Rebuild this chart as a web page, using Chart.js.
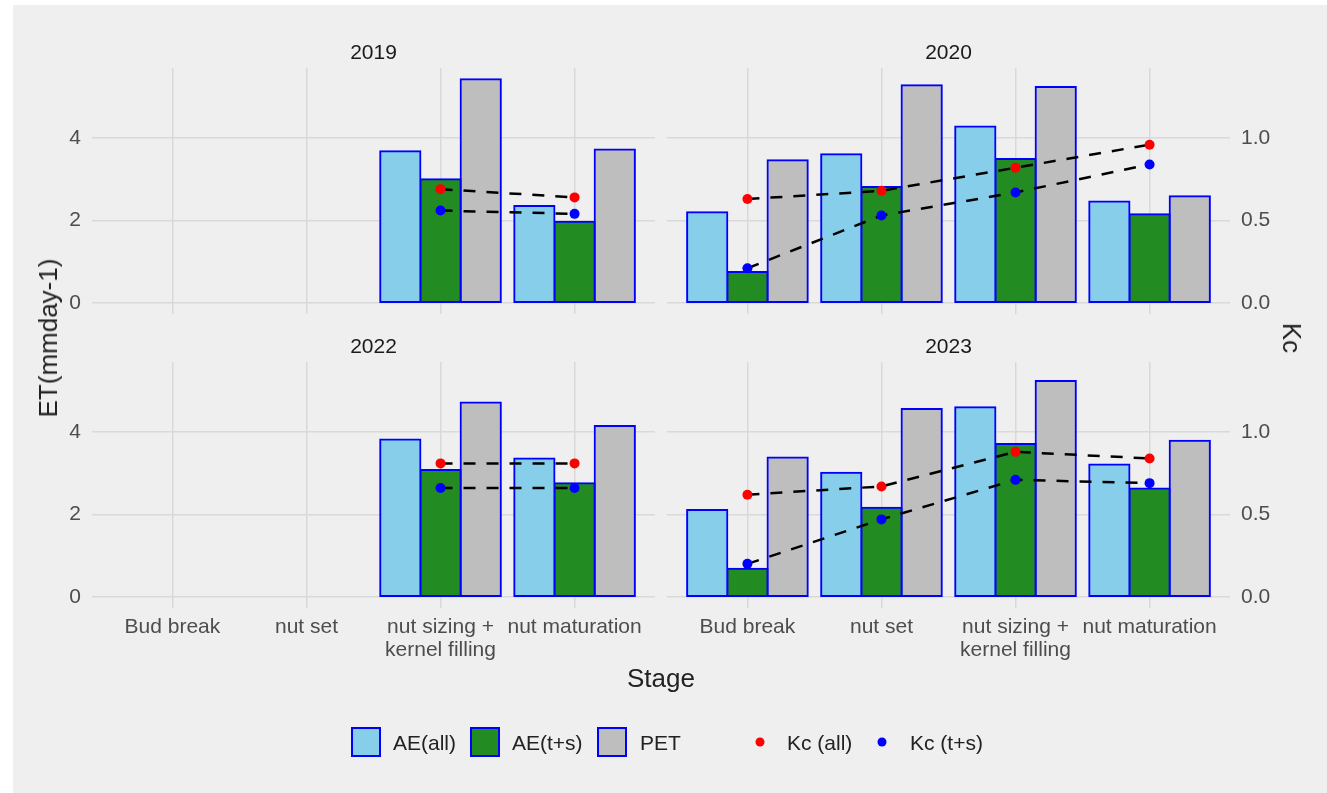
<!DOCTYPE html>
<html>
<head>
<meta charset="utf-8">
<title>ET and Kc by stage</title>
<script src="https://cdn.jsdelivr.net/npm/chart.js@4.4.1/dist/chart.umd.min.js"></script>
<style>
  html, body { margin: 0; padding: 0; background: #ffffff; }
  #fig { position: relative; width: 1327px; height: 793px; overflow: hidden;
         font-family: "Liberation Sans", Arial, sans-serif; }
  #bg { position: absolute; left: 13px; top: 5px; right: 0; bottom: 0; background: #EFEFEF; }
  #fig canvas { position: absolute; left: 0; top: 0; }
  .t { position: absolute; white-space: nowrap; line-height: 1; transform: translate(-50%, -50%); }
  .strip { font-size: 21px; color: #1A1A1A; }
  .title { font-size: 26px; color: #222222; }
  .leg { position: absolute; white-space: nowrap; line-height: 1; font-size: 21px; color: #222222;
         transform: translateY(-50%); }
  .key { position: absolute; width: 30px; height: 30px; box-sizing: border-box;
         border: 2px solid #0000FF; transform: translateY(-50%); }
  .dot { position: absolute; width: 9px; height: 9px; border-radius: 50%; transform: translate(-50%, -50%); }
</style>
</head>
<body>
<div id="fig"><div id="bg"></div></div>
<script>
// Growth stages along the x axis
const stages = ['Bud break', 'nut set', 'nut sizing +\nkernel filling', 'nut maturation'];
// Facet years (rows of every series array below follow this order)
const years = ['2019', '2020', '2022', '2023'];

// ET values (mm day-1), one row per year, one entry per stage
const aeAll = [
  [null, null, 3.68, 2.35],
  [2.20, 3.61, 4.28, 2.46],
  [null, null, 3.82, 3.36],
  [2.11, 3.01, 4.60, 3.21]
];
const aeTS = [
  [null, null, 3.00, 1.97],
  [0.75, 2.81, 3.49, 2.15],
  [null, null, 3.08, 2.76],
  [0.68, 2.16, 3.71, 2.63]
];
const pet = [
  [null, null, 5.43, 3.72],
  [3.46, 5.28, 5.24, 2.59],
  [null, null, 4.72, 4.15],
  [3.38, 4.56, 5.24, 3.79]
];
// Crop coefficients
const kcAll = [
  [null, null, 0.69, 0.64],
  [0.63, 0.68, 0.82, 0.96],
  [null, null, 0.81, 0.81],
  [0.62, 0.67, 0.88, 0.84]
];
const kcTS = [
  [null, null, 0.56, 0.54],
  [0.21, 0.53, 0.67, 0.84],
  [null, null, 0.66, 0.66],
  [0.20, 0.47, 0.71, 0.69]
];

// Axis ticks and series names
const etTicks = [0, 2, 4];
const kcTicks = [0, 0.5, 1.0];
const barNames = ['AE(all)', 'AE(t+s)', 'PET'];
const kcNames = ['Kc (all)', 'Kc (t+s)'];

// Styling
const FONT = '"Liberation Sans", Arial, sans-serif';
const barFill = ['#87CEEB', '#228B22', '#BEBEBE'];
const kcFill = ['#FF0000', '#0000FF'];
const gridColor = '#D9D9D9';
const tickColor = '#4D4D4D';
const W = 1327, H = 793;
const kcScale = 4; // Kc axis = ET / 4

// Shared y range: bars start at 0, 5% headroom on both ends
const etMax = Math.max(...[aeAll, aeTS, pet].flat(2).filter(v => v !== null));
const yLo = -0.05 * etMax, yHi = 1.05 * etMax;

// Panel placement: plot rectangle of each facet and which axes carry labels
const panels = [
  { row: 0, left: 92,  right: 655,  top: 68,  bottom: 314, yLabels: true,  kcLabels: false, xLabels: false },
  { row: 1, left: 667, right: 1230, top: 68,  bottom: 314, yLabels: false, kcLabels: true,  xLabels: false },
  { row: 2, left: 92,  right: 655,  top: 362, bottom: 608, yLabels: true,  kcLabels: false, xLabels: true },
  { row: 3, left: 667, right: 1230, top: 362, bottom: 608, yLabels: false, kcLabels: true,  xLabels: true }
];
const Y_AXIS_W = 60, KC_AXIS_W = 60, X_AXIS_H = 70;

const fig = document.getElementById('fig');
const toPoints = arr => arr.map((v, i) => ({ x: i, y: v }));

function addText(cls, text, x, y, extra) {
  const d = document.createElement('div');
  d.className = cls;
  d.textContent = text;
  d.style.left = x + 'px';
  d.style.top = y + 'px';
  if (extra) d.style.transform = extra;
  fig.appendChild(d);
  return d;
}

panels.forEach(p => {
  const cv = document.createElement('canvas');
  cv.width = W; cv.height = H;
  cv.style.width = W + 'px'; cv.style.height = H + 'px';
  fig.appendChild(cv);

  const bars = [aeAll[p.row], aeTS[p.row], pet[p.row]].map((arr, k) => ({
    type: 'bar',
    label: barNames[k],
    data: toPoints(arr),
    yAxisID: 'y',
    backgroundColor: barFill[k],
    borderColor: '#0000FF',
    borderWidth: 2,
    inflateAmount: 1,
    borderSkipped: false,
    categoryPercentage: 0.9,
    barPercentage: 1.0,
    order: 2
  }));
  const lines = [kcAll[p.row], kcTS[p.row]].map((arr, k) => ({
    type: 'line',
    label: kcNames[k],
    data: toPoints(arr),
    yAxisID: 'y2',
    borderColor: '#000000',
    borderWidth: 2.5,
    borderDash: [12, 11],
    tension: 0,
    fill: false,
    pointRadius: 5,
    pointHoverRadius: 5,
    pointBorderWidth: 0,
    pointBackgroundColor: kcFill[k],
    order: 1
  }));

  const tickFont = { family: FONT, size: 21 };

  new Chart(cv, {
    data: { datasets: [...bars, ...lines] },
    options: {
      responsive: false,
      animation: false,
      devicePixelRatio: 1,
      events: [],
      layout: {
        padding: {
          left: p.left - (p.yLabels ? Y_AXIS_W : 0),
          right: W - p.right - (p.kcLabels ? KC_AXIS_W : 0),
          top: p.top,
          bottom: H - p.bottom - (p.xLabels ? X_AXIS_H : 0)
        }
      },
      plugins: { legend: { display: false }, tooltip: { enabled: false }, title: { display: false } },
      scales: {
        x: {
          type: 'linear',
          offset: false,
          min: -0.6,
          max: stages.length - 1 + 0.6,
          afterBuildTicks: s => { s.ticks = stages.map((_, i) => ({ value: i })); },
          afterFit: s => { s.height = p.xLabels ? X_AXIS_H : 0; },
          grid: { offset: false, color: gridColor, lineWidth: 1.5, drawTicks: false },
          border: { display: false },
          ticks: {
            display: p.xLabels,
            autoSkip: false,
            maxRotation: 0,
            minRotation: 0,
            padding: 8,
            color: tickColor,
            font: { family: FONT, size: 21, lineHeight: 1.1 },
            callback: v => stages[v].split('\n')
          }
        },
        y: {
          type: 'linear',
          position: 'left',
          min: yLo,
          max: yHi,
          afterBuildTicks: s => { s.ticks = etTicks.map(v => ({ value: v })); },
          afterFit: s => { s.width = p.yLabels ? Y_AXIS_W : 0; },
          grid: { color: gridColor, lineWidth: 1.5, drawTicks: false },
          border: { display: false },
          ticks: { display: p.yLabels, padding: 11, color: tickColor, font: tickFont }
        },
        y2: {
          type: 'linear',
          position: 'right',
          display: p.kcLabels,
          min: yLo / kcScale,
          max: yHi / kcScale,
          afterBuildTicks: s => { s.ticks = kcTicks.map(v => ({ value: v })); },
          afterFit: s => { s.width = p.kcLabels ? KC_AXIS_W : 0; },
          grid: { display: false, drawTicks: false },
          border: { display: false },
          ticks: { padding: 11, color: tickColor, font: tickFont, callback: v => v.toFixed(1) }
        }
      }
    }
  });

  // facet strip label
  addText('t strip', years[p.row], (p.left + p.right) / 2, p.top - 17.5);
});

// Axis titles
addText('t title', 'Stage', (92 + 1230) / 2, 678);
addText('t title', 'ET(mmday-1)', 48, 338, 'translate(-50%, -50%) rotate(-90deg)');
addText('t title', 'Kc', 1292, 338, 'translate(-50%, -50%) rotate(90deg)');

// Legend
const legY = 742;
const barKeyX = [351, 470, 597];
const barTextX = [393, 512, 640];
barNames.forEach((name, k) => {
  const key = document.createElement('div');
  key.className = 'key';
  key.style.left = barKeyX[k] + 'px';
  key.style.top = legY + 'px';
  key.style.background = barFill[k];
  fig.appendChild(key);
  const t = addText('leg', name, barTextX[k], legY);
  t.style.transform = 'translateY(-50%)';
});
const dotX = [760, 882];
const dotTextX = [787, 910];
kcNames.forEach((name, k) => {
  const d = document.createElement('div');
  d.className = 'dot';
  d.style.left = dotX[k] + 'px';
  d.style.top = legY + 'px';
  d.style.background = kcFill[k];
  fig.appendChild(d);
  const t = addText('leg', name, dotTextX[k], legY);
  t.style.transform = 'translateY(-50%)';
});
</script>
</body>
</html>
